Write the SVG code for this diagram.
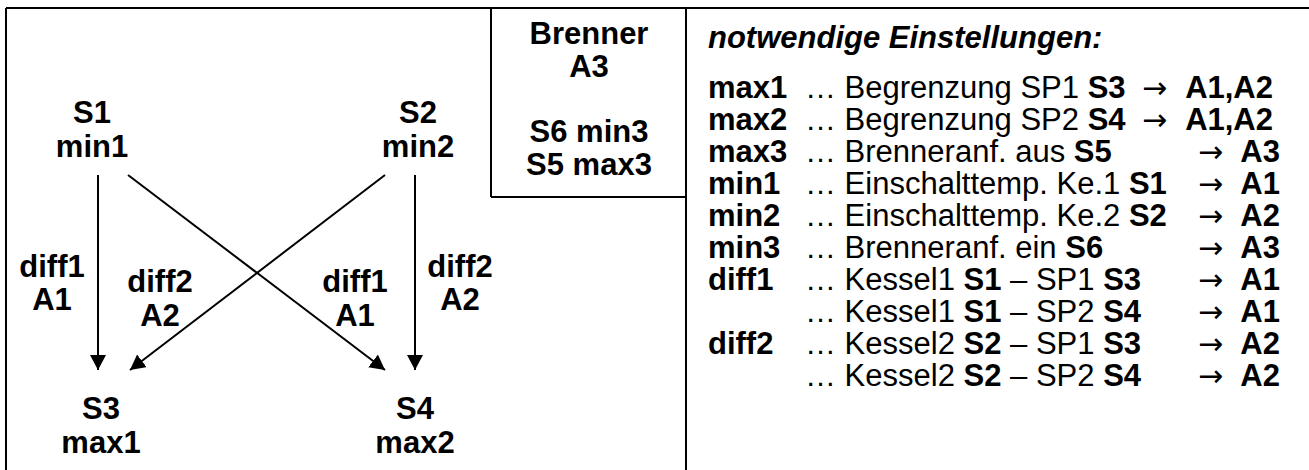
<svg xmlns="http://www.w3.org/2000/svg" width="1309" height="470" viewBox="0 0 1309 470">
<style>
text{font-family:"Liberation Sans",Arial,sans-serif;font-size:31px;fill:#000}
.b{font-weight:bold}
.c{text-anchor:middle;font-weight:bold}
.e{text-anchor:end;font-weight:bold}
.ar{font-family:"DejaVu Sans",sans-serif;font-size:30px}
.frame{stroke:#000;stroke-width:2;fill:none}
.conn{stroke:#000;stroke-width:2;fill:none;marker-end:url(#ah)}
</style>
<defs>
<marker id="ah" markerWidth="16" markerHeight="16" refX="15" refY="8" orient="auto" markerUnits="userSpaceOnUse">
<path d="M0,0 L15,8 L0,16 Z" fill="#000"/>
</marker>
</defs>
<g id="frame">
<line class="frame" x1="6" y1="8" x2="1309" y2="8"/>
<line class="frame" x1="6" y1="8" x2="6" y2="470"/>
<line class="frame" x1="686" y1="8" x2="686" y2="470"/>
<line class="frame" x1="491" y1="8" x2="491" y2="197"/>
<line class="frame" x1="491" y1="197" x2="686" y2="197"/>
</g>
<g id="brenner">
<text class="c" x="589" y="44">Brenner</text>
<text class="c" x="589" y="77">A3</text>
<text class="c" x="589" y="142">S6 min3</text>
<text class="c" x="589" y="175">S5 max3</text>
</g>
<g id="S1"><text class="c" x="92" y="123">S1</text><text class="c" x="92" y="157">min1</text></g>
<g id="S2"><text class="c" x="418" y="123">S2</text><text class="c" x="418" y="157">min2</text></g>
<g id="S3"><text class="c" x="101" y="419">S3</text><text class="c" x="101" y="453">max1</text></g>
<g id="S4"><text class="c" x="415" y="419">S4</text><text class="c" x="415" y="453">max2</text></g>
<g id="connectors">
<line class="conn" x1="98" y1="175" x2="98" y2="370"/>
<line class="conn" x1="415" y1="175" x2="415" y2="370"/>
<line class="conn" x1="128" y1="175" x2="385" y2="370"/>
<line class="conn" x1="385" y1="175" x2="130" y2="370"/>
</g>
<g id="labels">
<text class="c" x="52" y="277">diff1</text><text class="c" x="52" y="310">A1</text>
<text class="c" x="160" y="292">diff2</text><text class="c" x="160" y="326">A2</text>
<text class="c" x="355" y="292">diff1</text><text class="c" x="355" y="326">A1</text>
<text class="c" x="460" y="277">diff2</text><text class="c" x="460" y="310">A2</text>
</g>
<g id="settings">
<text x="708" y="48" class="b" font-style="italic">notwendige Einstellungen:</text>
<text x="708" y="98"><tspan class="b">max1</tspan><tspan x="805">… Begrenzung SP1 </tspan><tspan class="b">S3</tspan></text>
<text x="1142" y="98" class="ar">→</text><text x="1273" y="98" class="e">A1,A2</text>
<text x="708" y="130"><tspan class="b">max2</tspan><tspan x="805">… Begrenzung SP2 </tspan><tspan class="b">S4</tspan></text>
<text x="1142" y="130" class="ar">→</text><text x="1273" y="130" class="e">A1,A2</text>
<text x="708" y="162"><tspan class="b">max3</tspan><tspan x="805">… Brenneranf. aus </tspan><tspan class="b">S5</tspan></text>
<text x="1198" y="162" class="ar">→</text><text x="1280" y="162" class="e">A3</text>
<text x="708" y="194"><tspan class="b">min1</tspan><tspan x="805">… Einschalttemp. Ke.1 </tspan><tspan class="b">S1</tspan></text>
<text x="1198" y="194" class="ar">→</text><text x="1280" y="194" class="e">A1</text>
<text x="708" y="226"><tspan class="b">min2</tspan><tspan x="805">… Einschalttemp. Ke.2 </tspan><tspan class="b">S2</tspan></text>
<text x="1198" y="226" class="ar">→</text><text x="1280" y="226" class="e">A2</text>
<text x="708" y="258"><tspan class="b">min3</tspan><tspan x="805">… Brenneranf. ein </tspan><tspan class="b">S6</tspan></text>
<text x="1198" y="258" class="ar">→</text><text x="1280" y="258" class="e">A3</text>
<text x="708" y="290"><tspan class="b">diff1</tspan><tspan x="805">… Kessel1 </tspan><tspan class="b">S1</tspan> – SP1 <tspan class="b">S3</tspan></text>
<text x="1198" y="290" class="ar">→</text><text x="1280" y="290" class="e">A1</text>
<text x="805" y="322">… Kessel1 <tspan class="b">S1</tspan> – SP2 <tspan class="b">S4</tspan></text>
<text x="1198" y="322" class="ar">→</text><text x="1280" y="322" class="e">A1</text>
<text x="708" y="354"><tspan class="b">diff2</tspan><tspan x="805">… Kessel2 </tspan><tspan class="b">S2</tspan> – SP1 <tspan class="b">S3</tspan></text>
<text x="1198" y="354" class="ar">→</text><text x="1280" y="354" class="e">A2</text>
<text x="805" y="386">… Kessel2 <tspan class="b">S2</tspan> – SP2 <tspan class="b">S4</tspan></text>
<text x="1198" y="386" class="ar">→</text><text x="1280" y="386" class="e">A2</text>
</g>
</svg>
